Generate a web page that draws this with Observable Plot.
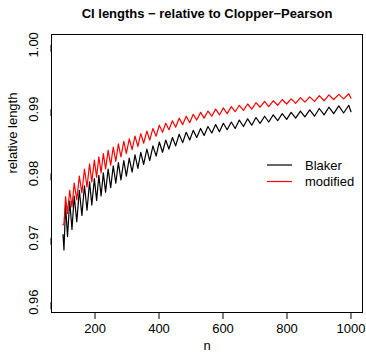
<!DOCTYPE html>
<html>
<head>
<meta charset="utf-8">
<script src="https://cdn.jsdelivr.net/npm/d3@7"></script>
<script src="https://cdn.jsdelivr.net/npm/@observablehq/plot@0.6"></script>
<style>
  html, body { margin: 0; padding: 0; background: #fff; }
  #wrap { position: relative; width: 366px; height: 354px; font-family: "Liberation Sans", Arial, sans-serif; }
  #legend { position: absolute; left: 0; top: 0; width: 366px; height: 354px; pointer-events: none; }
</style>
</head>
<body>
<div id="wrap"></div>
<script>
const titleText = "CI lengths \u2212 relative to Clopper\u2212Pearson";
const xLabel = "n";
const yLabel = "relative length";
const seriesNames = ["Blaker", "modified"];
const seriesColors = ["#000000", "#ff0000"];
const xTicks = [200, 400, 600, 800, 1000];
const yTicks = [0.96, 0.97, 0.98, 0.99, 1.00];

const nValues = [100, 103, 108, 114, 121, 128, 135, 143, 151, 159, 167, 175, 183, 190, 198, 205, 212, 219, 226, 233,
  241, 249, 257, 265, 273, 281, 290, 298, 307, 316, 325, 334, 343, 352, 362, 371, 381, 391, 401, 411,
  421, 431, 442, 452, 463, 474, 485, 496, 507, 518, 530, 541, 553, 565, 577, 589, 601, 613, 626, 638,
  651, 664, 677, 690, 703, 716, 730, 743, 757, 771, 785, 799, 813, 827, 842, 856, 871, 886, 901, 916,
  931, 946, 962, 977, 993, 1000];

const blaker = [0.9705, 0.9681, 0.9751, 0.9702, 0.9757, 0.9713, 0.9765, 0.9725, 0.9774, 0.9735, 0.9781, 0.9743, 0.9787, 0.9751, 0.9792, 0.9758, 0.9797, 0.9765, 0.9801, 0.9771,
  0.9807, 0.9778, 0.9812, 0.9785, 0.9817, 0.9790, 0.9820, 0.9796, 0.9824, 0.9802, 0.9829, 0.9808, 0.9833, 0.9814, 0.9838, 0.9820, 0.9843, 0.9827, 0.9849, 0.9833,
  0.9852, 0.9838, 0.9856, 0.9843, 0.9861, 0.9848, 0.9864, 0.9852, 0.9867, 0.9856, 0.9870, 0.9859, 0.9873, 0.9863, 0.9876, 0.9865, 0.9878, 0.9868, 0.9880, 0.9870,
  0.9883, 0.9873, 0.9885, 0.9875, 0.9887, 0.9878, 0.9889, 0.9880, 0.9891, 0.9882, 0.9893, 0.9884, 0.9895, 0.9886, 0.9897, 0.9888, 0.9899, 0.9889, 0.9901, 0.9891,
  0.9903, 0.9893, 0.9905, 0.9894, 0.9906, 0.9896];

const modified = [0.9720, 0.9722, 0.9764, 0.9738, 0.9774, 0.9748, 0.9785, 0.9759, 0.9796, 0.9770, 0.9807, 0.9779, 0.9815, 0.9787, 0.9821, 0.9794, 0.9826, 0.9801, 0.9831, 0.9807,
  0.9836, 0.9813, 0.9841, 0.9819, 0.9846, 0.9826, 0.9850, 0.9831, 0.9854, 0.9837, 0.9858, 0.9842, 0.9862, 0.9847, 0.9866, 0.9852, 0.9870, 0.9858, 0.9875, 0.9864,
  0.9878, 0.9868, 0.9882, 0.9872, 0.9886, 0.9876, 0.9889, 0.9879, 0.9892, 0.9883, 0.9895, 0.9886, 0.9897, 0.9889, 0.9900, 0.9891, 0.9902, 0.9893, 0.9904, 0.9896,
  0.9906, 0.9898, 0.9908, 0.9900, 0.9910, 0.9903, 0.9912, 0.9904, 0.9913, 0.9906, 0.9915, 0.9908, 0.9916, 0.9909, 0.9918, 0.9911, 0.9919, 0.9912, 0.9921, 0.9913,
  0.9922, 0.9915, 0.9923, 0.9916, 0.9924, 0.9917];

const rowsB = nValues.map((n, i) => ({n, v: blaker[i]}));
const rowsM = nValues.map((n, i) => ({n, v: modified[i]}));

const FONT = "Liberation Sans, Arial, sans-serif";

const chart = Plot.plot({
  width: 366,
  height: 354,
  marginLeft: 51,
  marginRight: 4,
  marginTop: 34,
  marginBottom: 42,
  style: {fontFamily: FONT, fontSize: "13px", color: "#000", background: "#fff"},
  x: {domain: [64, 1036]},
  y: {domain: [0.9584, 1.0016]},
  marks: [
    Plot.frame({stroke: "#000", strokeWidth: 1}),
    Plot.axisX({ticks: xTicks, tickSize: 7, tickPadding: 4, tickFormat: d => String(d), label: null, fontSize: 13}),
    Plot.axisY({ticks: yTicks, tickSize: 7, tickPadding: 11, tickFormat: d => d.toFixed(2), label: null, rotate: -90, textAnchor: "middle", fontSize: 13}),
    Plot.line(rowsB, {x: "n", y: "v", stroke: seriesColors[0], strokeWidth: 1.2}),
    Plot.line(rowsM, {x: "n", y: "v", stroke: seriesColors[1], strokeWidth: 1.2}),
    Plot.text([titleText], {frameAnchor: "top", dy: -21, fontWeight: "bold", fontSize: 13, lineAnchor: "middle", fill: "#000"}),
    Plot.text([xLabel], {frameAnchor: "bottom", dy: 33, fontSize: 13, lineAnchor: "middle", fill: "#000"}),
    Plot.text([yLabel], {frameAnchor: "left", dx: -39, rotate: -90, fontSize: 13, lineAnchor: "middle", fill: "#000"})
  ]
});

const wrap = document.getElementById("wrap");
wrap.appendChild(chart);

// legend overlay
const ns = "http://www.w3.org/2000/svg";
const leg = document.createElementNS(ns, "svg");
leg.setAttribute("id", "legend");
leg.setAttribute("width", 366);
leg.setAttribute("height", 354);
const legendY = [165, 181.5];
seriesNames.forEach((name, i) => {
  const ln = document.createElementNS(ns, "line");
  ln.setAttribute("x1", 267); ln.setAttribute("x2", 292);
  ln.setAttribute("y1", legendY[i]); ln.setAttribute("y2", legendY[i]);
  ln.setAttribute("stroke", seriesColors[i]); ln.setAttribute("stroke-width", 1.2);
  leg.appendChild(ln);
  const tx = document.createElementNS(ns, "text");
  tx.setAttribute("x", 305); tx.setAttribute("y", legendY[i]);
  tx.setAttribute("dy", "0.35em");
  tx.setAttribute("font-family", FONT);
  tx.setAttribute("font-size", 13);
  tx.setAttribute("fill", "#000");
  tx.textContent = name;
  leg.appendChild(tx);
});
wrap.appendChild(leg);
</script>
</body>
</html>
